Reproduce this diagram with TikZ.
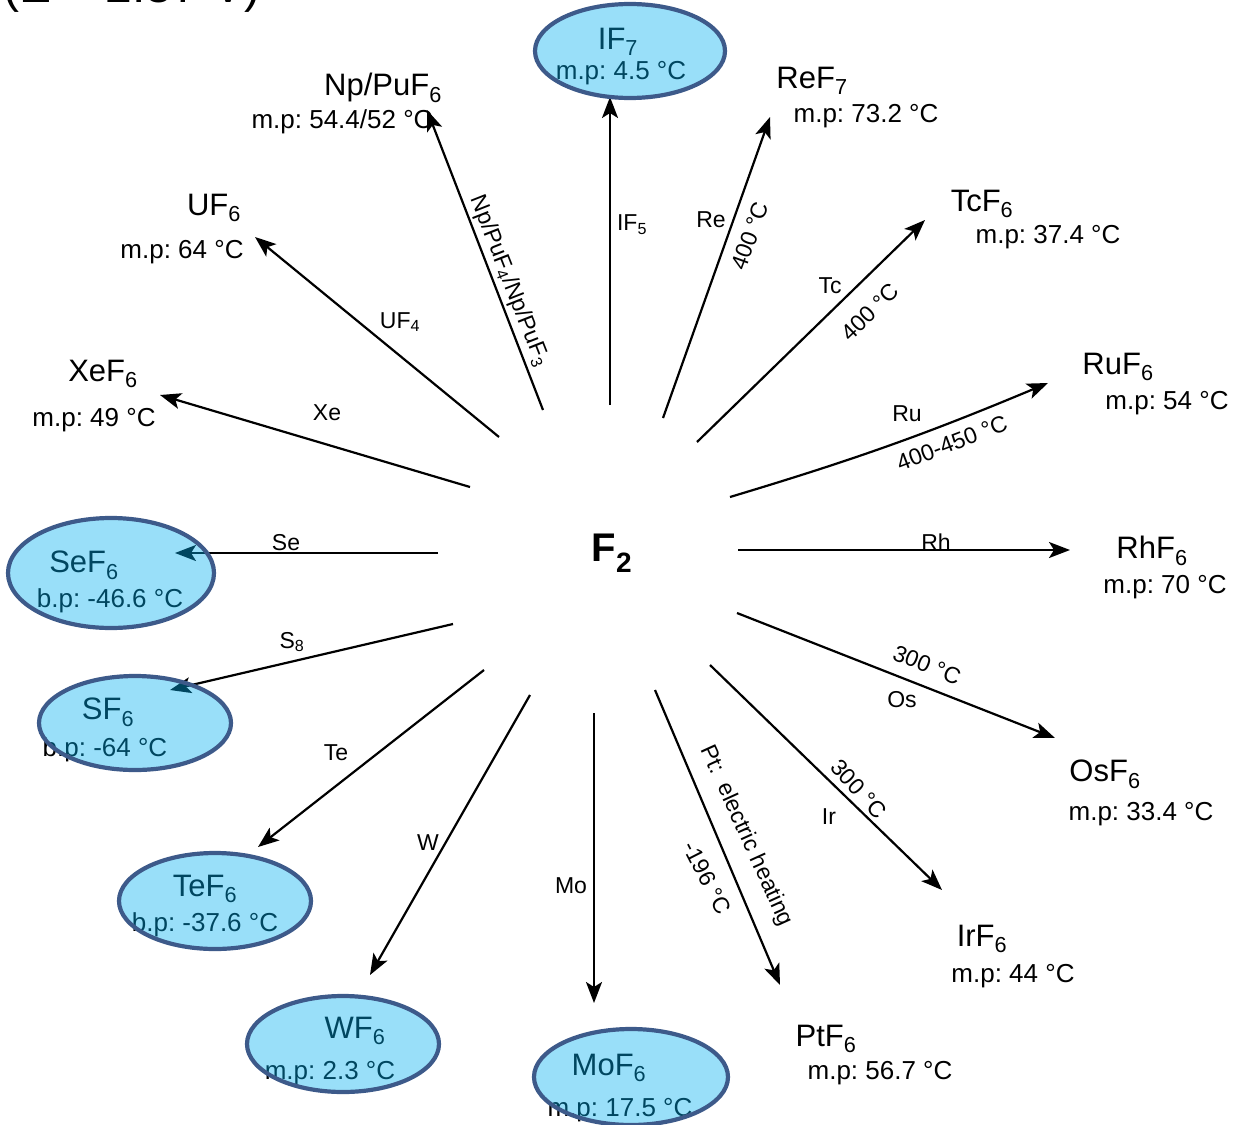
\documentclass[tikz,border=0pt]{standalone}
\usepackage{fontspec}
\setmainfont{Liberation Sans}
\usetikzlibrary{arrows.meta,shapes.geometric}
\definecolor{fillc}{RGB}{0,176,240}
\definecolor{edgec}{RGB}{61,90,138}
\frenchspacing
\tikzset{
  arr/.style={line width=2.2pt, -{Stealth[length=21pt,width=16pt,inset=5pt]}},
  cname/.style={font=\fontsize{31}{35}\selectfont, inner sep=0pt},
  cmp/.style={font=\fontsize{26}{30}\selectfont, inner sep=0pt},
  lab/.style={font=\fontsize{23}{27}\selectfont, inner sep=0pt},
  bubble/.style={ellipse, draw=edgec, line width=4.2pt, fill=fillc, fill opacity=0.4, draw opacity=1, inner sep=0pt},
}
\begin{document}
\begin{tikzpicture}[x=1pt,y=-1pt]
\useasboundingbox (0,0) rectangle (1239,1124);
\clip (0,0) rectangle (1239,1124);

% title (cut off at the top)
\node[anchor=base west, inner sep=0pt, font=\fontsize{48}{52}\selectfont] (title) at (3,3) {(E = 2.87 V)};

% centre
\node[inner sep=0pt, font=\fontsize{40}{44}\selectfont\bfseries] (F) at (612,553) {F\textsubscript{2}};

% plain products
\node[cname] (NpPu) at (383,88) {Np/PuF\textsubscript{6}};
\node[cmp] (NpPuM) at (342,122) {m.p: 54.4/52 °C};
\node[cname] (U) at (214,208) {UF\textsubscript{6}};
\node[cmp] (UM) at (182,252) {m.p: 64 °C};
\node[cname] (Xe) at (103,374) {XeF\textsubscript{6}};
\node[cmp] (XeM) at (94,420) {m.p: 49 °C};
\node[cname] (Re) at (812,81) {ReF\textsubscript{7}};
\node[cmp] (ReM) at (866,116) {m.p: 73.2 °C};
\node[cname] (Tc) at (982,204) {TcF\textsubscript{6}};
\node[cmp] (TcM) at (1048,237) {m.p: 37.4 °C};
\node[cname] (Ru) at (1118,367) {RuF\textsubscript{6}};
\node[cmp] (RuM) at (1167,403) {m.p: 54 °C};
\node[cname] (Rh) at (1152,551) {RhF\textsubscript{6}};
\node[cmp] (RhM) at (1165,587) {m.p: 70 °C};
\node[cname] (Os) at (1105,774) {OsF\textsubscript{6}};
\node[cmp] (OsM) at (1141,814) {m.p: 33.4 °C};
\node[cname] (Ir) at (982,939) {IrF\textsubscript{6}};
\node[cmp] (IrM) at (1013,976) {m.p: 44 °C};
\node[cname] (Pt) at (826,1039) {PtF\textsubscript{6}};
\node[cmp] (PtM) at (880,1073) {m.p: 56.7 °C};

% products inside bubbles (text first)
\node[cname] (I) at (618,42) {IF\textsubscript{7}};
\node[cmp] (IM) at (621,73) {m.p: 4.5 °C};
\node[cname] (Se) at (84,565) {SeF\textsubscript{6}};
\node[cmp] (SeM) at (110,601) {b.p: -46.6 °C};
\node[cname] (S) at (108,712) {SF\textsubscript{6}};
\node[cmp] (SM) at (105,750) {b.p: -64 °C};
\node[cname] (Te) at (205,889) {TeF\textsubscript{6}};
\node[cmp] (TeM) at (205,925) {b.p: -37.6 °C};
\node[cname] (W) at (355,1031) {WF\textsubscript{6}};
\node[cmp] (WM) at (330,1073) {m.p: 2.3 °C};
\node[cname] (Mo) at (609,1068) {MoF\textsubscript{6}};
\node[cmp] (MoM) at (620,1110) {m.p: 17.5 °C};

% connector end points
\coordinate (sI) at (610,405);   \coordinate (eI) at (610,97);
\coordinate (sRe) at (663,418);  \coordinate (eRe) at (770,117);
\coordinate (sTc) at (697,442);  \coordinate (eTc) at (925,220);
\coordinate (sRu) at (730,497);  \coordinate (eRu) at (1048,383);
\coordinate (sRh) at (738,550);  \coordinate (eRh) at (1070,550);
\coordinate (sOs) at (737,613);  \coordinate (eOs) at (1055,738);
\coordinate (sIr) at (710,665);  \coordinate (eIr) at (942,890);
\coordinate (sPt) at (655,690);  \coordinate (ePt) at (780,985);
\coordinate (sMo) at (594,713);  \coordinate (eMo) at (594,1003);
\coordinate (sW) at (530,695);   \coordinate (eW) at (370,975);
\coordinate (sTe) at (484,670);  \coordinate (eTe) at (258,847);
\coordinate (sS) at (453,624);   \coordinate (eS) at (170,690);
\coordinate (sSe) at (438,553);  \coordinate (eSe) at (175,553);
\coordinate (sXe) at (470,487);  \coordinate (eXe) at (160,395);
\coordinate (sU) at (499,437);   \coordinate (eU) at (255,237);
\coordinate (sNp) at (543,410);  \coordinate (eNp) at (427,110);

% connectors
\draw[arr] (sI) -- (eI);
\draw[arr] (sRe) -- (eRe);
\draw[arr] (sTc) -- (eTc);
\draw[arr] (sRu) to[bend right=3] (eRu);
\draw[arr] (sRh) -- (eRh);
\draw[arr] (sOs) -- (eOs);
\draw[arr] (sIr) -- (eIr);
\draw[arr] (sPt) -- (ePt);
\draw[arr] (sMo) -- (eMo);
\draw[arr] (sW) -- (eW);
\draw[arr] (sTe) -- (eTe);
\draw[arr] (sS) -- (eS);
\draw[arr] (sSe) -- (eSe);
\draw[arr] (sXe) -- (eXe);
\draw[arr] (sU) -- (eU);
\draw[arr] (sNp) -- (eNp);

% connector labels
\node[lab] (lI) at (632,225) {IF\textsubscript{5}};
\node[lab] (lRe) at (711,220) {Re};
\node[lab, rotate=70] (lRe2) at (750,236) {400 °C};
\node[lab] (lTc) at (830,286) {Tc};
\node[lab, rotate=44] (lTc2) at (870,312) {400 °C};
\node[lab] (lRu) at (907,414) {Ru};
\node[lab, rotate=21] (lRu2) at (952,443) {400-450 °C};
\node[lab] (lRh) at (936,542) {Rh};
\node[lab, rotate=-22] (lOs2) at (927,665) {300 °C};
\node[lab] (lOs) at (902,700) {Os};
\node[lab, rotate=-47] (lIr2) at (859,789) {300 °C};
\node[lab] (lIr) at (829,817) {Ir};
\node[lab, rotate=-65.5] (lPt) at (746,836) {Pt:\ \ electric heating};
\node[lab, rotate=-63] (lPt2) at (707,878) {-196 °C};
\node[lab] (lMo) at (571,886) {Mo};
\node[lab] (lW) at (428,843) {W};
\node[lab] (lTe) at (336,753) {Te};
\node[lab] (lS) at (292,642) {S\textsubscript{8}};
\node[lab] (lSe) at (286,543) {Se};
\node[lab] (lXe) at (327,413) {Xe};
\node[lab] (lU) at (400,322) {UF\textsubscript{4}};
\node[lab, rotate=-68.5] (lNp) at (509,281) {Np/PuF\textsubscript{4}/Np/PuF\textsubscript{3}};

% bubbles on top
\node[bubble, minimum width=190pt, minimum height=94pt] (bI) at (630,51) {};
\node[bubble, minimum width=206pt, minimum height=110pt] (bSe) at (111,573) {};
\node[bubble, minimum width=192pt, minimum height=94pt] (bS) at (135,723) {};
\node[bubble, minimum width=192pt, minimum height=96pt] (bTe) at (215,901) {};
\node[bubble, minimum width=192pt, minimum height=96pt] (bW) at (343,1044) {};
\node[bubble, minimum width=194pt, minimum height=96pt] (bMo) at (631,1077) {};
\end{tikzpicture}
\end{document}
